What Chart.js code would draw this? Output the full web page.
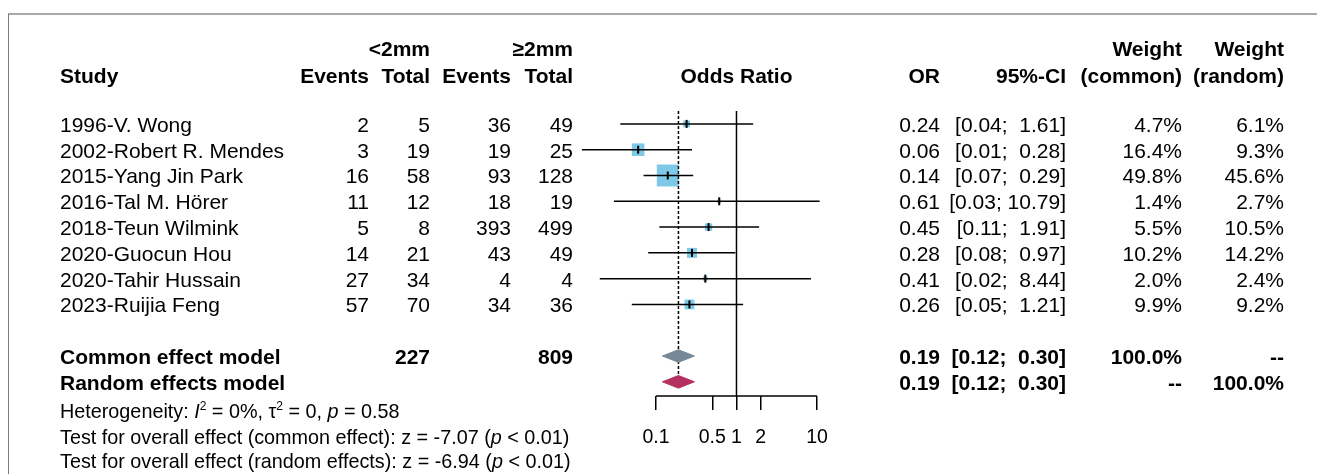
<!DOCTYPE html>
<html>
<head>
<meta charset="utf-8">
<script src="https://cdn.jsdelivr.net/npm/chart.js@4.4.1/dist/chart.umd.min.js"></script>
<style>
  body { margin: 0; background: #fff; }
  #wrap { position: relative; width: 1317px; height: 474px; overflow: hidden; font-family: "Liberation Sans", Arial, sans-serif; color: #000; }
  #frame { position: absolute; left: 8px; top: 13px; width: 1400px; height: 500px; border-top: 2px solid #a9a9a9; border-left: 1px solid #7a7a7a; }
  #plot { position: absolute; left: 0; top: 0; }
  .t { position: absolute; white-space: pre; font-size: 21px; line-height: 24px; }
  .b { font-weight: bold; }
  .s { font-size: 19.8px; }
</style>
</head>
<body>
<div id="wrap">
  <div id="frame"></div>
  <canvas id="plot" width="1317" height="474"></canvas>
</div>
<script>
// studies
var studies = ['1996-V. Wong', '2002-Robert R. Mendes', '2015-Yang Jin Park', '2016-Tal M. Hörer',
               '2018-Teun Wilmink', '2020-Guocun Hou', '2020-Tahir Hussain', '2023-Ruijia Feng'];
var eventsLow = [2, 3, 16, 11, 5, 14, 27, 57];
var totalLow = [5, 19, 58, 12, 8, 21, 34, 70];
var eventsHigh = [36, 19, 93, 18, 393, 43, 4, 34];
var totalHigh = [49, 25, 128, 19, 499, 49, 4, 36];
var oddsRatio = [0.24, 0.06, 0.14, 0.61, 0.45, 0.28, 0.41, 0.26];
var ciLower = [0.036, 0.012, 0.07, 0.03, 0.11, 0.08, 0.02, 0.05];
var ciUpper = [1.61, 0.28, 0.29, 10.79, 1.91, 0.97, 8.44, 1.21];
var weightCommon = [4.7, 16.4, 49.8, 1.4, 5.5, 10.2, 2.0, 9.9];
var weightRandom = [6.1, 9.3, 45.6, 2.7, 10.5, 14.2, 2.4, 9.2];

// pooled models
var modelNames = ['Common effect model', 'Random effects model'];
var modelOR = [0.19, 0.19];
var modelLower = [0.12, 0.12];
var modelUpper = [0.30, 0.30];
var modelWeightCommon = ['100.0%', '--'];
var modelWeightRandom = ['--', '100.0%'];

// axis
var xTicks = [0.1, 0.5, 1, 2, 10];
var xTickLabels = ['0.1', '0.5', '1', '2', '10'];

var FONT = '"Liberation Sans", Arial, sans-serif';
var modelRow0 = studies.length + 1;
var dh = 0.245;     // diamond half height in rows
var yTop = -0.5, yBottom = 10.55;

function line(pts, color, width, dash, order) {
    return {
        data: pts, showLine: true, borderColor: color, borderWidth: width,
        borderDash: dash || [], pointRadius: 0, clip: false, order: order
    };
}
function diamond(i, color) {
    var y = modelRow0 + i;
    return {
        data: [{x: modelLower[i], y: y}, {x: modelOR[i], y: y - dh}, {x: modelUpper[i], y: y},
               {x: modelOR[i], y: y + dh}, {x: modelLower[i], y: y}],
        showLine: true, fill: 'shape', backgroundColor: color, borderColor: color,
        borderWidth: 1, pointRadius: 0, clip: false, order: 4
    };
}

var datasets = [];
studies.forEach(function (s, i) {
    datasets.push(line([{x: ciLower[i], y: i}, {x: ciUpper[i], y: i}], '#000', 1.5, null, 2));
});
// reference line, pooled estimate line, axis line
datasets.push(line([{x: 1, y: yTop}, {x: 1, y: yBottom}], '#000', 1.5, null, 3));
datasets.push(line([{x: modelOR[0], y: yTop}, {x: modelOR[1], y: modelRow0 + 1 - dh}], '#000', 1.5, [3, 2], 5));
datasets.push(line([{x: xTicks[0], y: yBottom}, {x: xTicks[xTicks.length - 1], y: yBottom}], '#000', 1.5, null, 3));
datasets.push({
    data: oddsRatio.map(function (v, i) { return {x: v, y: i}; }),
    pointStyle: 'rect', backgroundColor: '#7ec9e8', borderWidth: 0,
    pointRadius: weightCommon.map(function (w) { return 2.2 * Math.sqrt(w); }),
    clip: false, order: 6
});
datasets.push({
    data: oddsRatio.map(function (v, i) { return {x: v, y: i}; }),
    pointStyle: 'line', rotation: 90, pointRadius: 4, borderColor: '#000', borderWidth: 2,
    clip: false, order: 1
});
datasets.push(diamond(0, '#778899'));
datasets.push(diamond(1, '#b3305f'));

var chart = new Chart(document.getElementById('plot'), {
    type: 'scatter',
    data: { datasets: datasets },
    options: {
        responsive: false,
        animation: false,
        events: [],
        layout: { padding: { left: 551.3, right: 475.8, top: 111, bottom: 18 } },
        plugins: { legend: { display: false }, tooltip: { enabled: false } },
        scales: {
            x: {
                type: 'logarithmic', min: 0.005, max: 20,
                afterBuildTicks: function (s) { s.ticks = xTicks.map(function (v) { return {value: v}; }); },
                afterFit: function (s) { s.height = 60; },
                grid: { drawOnChartArea: false, drawTicks: true, tickLength: 14, color: '#000', lineWidth: 1.5 },
                border: { display: false },
                ticks: {
                    color: '#000', padding: 16, maxRotation: 0, autoSkip: false,
                    font: { family: FONT, size: 19.5 },
                    callback: function (v, i) { return xTickLabels[i]; }
                }
            },
            y: { type: 'linear', reverse: true, min: yTop, max: yBottom, display: false }
        }
    }
});

// table text, placed on the chart's own row scale
var wrap = document.getElementById('wrap');
var ys = chart.scales.y, xs = chart.scales.x;
function put(html, x, row, align, cls) {
    var d = document.createElement('div');
    d.className = 't ' + (cls || '');
    d.innerHTML = html;
    var y = ys.getPixelForValue(row);
    d.style.top = (y - 11) + 'px';
    if (align === 'right') d.style.right = (1317 - x) + 'px';
    else if (align === 'center') { d.style.left = x + 'px'; d.style.transform = 'translateX(-50%)'; }
    else d.style.left = x + 'px';
    wrap.appendChild(d);
}
function ci(lo, hi) {
    var h = hi.toFixed(2);
    return '[' + lo.toFixed(2) + ';' + (h.length < 5 ? '  ' : ' ') + h + ']';
}
var C = { study: 60, evL: 369, toL: 430, evH: 511, toH: 573, or: 940, ci: 1066, wc: 1182, wr: 1284 };

put('&lt;2mm', C.toL, -2.95, 'right', 'b');
put('≥2mm', C.toH, -2.95, 'right', 'b');
put('Weight', C.wc, -2.95, 'right', 'b');
put('Weight', C.wr, -2.95, 'right', 'b');
put('Study', C.study, -1.9, 'left', 'b');
put('Events', C.evL, -1.9, 'right', 'b');
put('Total', C.toL, -1.9, 'right', 'b');
put('Events', C.evH, -1.9, 'right', 'b');
put('Total', C.toH, -1.9, 'right', 'b');
put('Odds Ratio', xs.getPixelForValue(1), -1.9, 'center', 'b');
put('OR', C.or, -1.9, 'right', 'b');
put('95%-CI', C.ci, -1.9, 'right', 'b');
put('(common)', C.wc, -1.9, 'right', 'b');
put('(random)', C.wr, -1.9, 'right', 'b');

studies.forEach(function (s, i) {
    put(s, C.study, i, 'left');
    put(String(eventsLow[i]), C.evL, i, 'right');
    put(String(totalLow[i]), C.toL, i, 'right');
    put(String(eventsHigh[i]), C.evH, i, 'right');
    put(String(totalHigh[i]), C.toH, i, 'right');
    put(oddsRatio[i].toFixed(2), C.or, i, 'right');
    put(ci(ciLower[i], ciUpper[i]), C.ci, i, 'right');
    put(weightCommon[i].toFixed(1) + '%', C.wc, i, 'right');
    put(weightRandom[i].toFixed(1) + '%', C.wr, i, 'right');
});

var sumLow = totalLow.reduce(function (a, b) { return a + b; }, 0);
var sumHigh = totalHigh.reduce(function (a, b) { return a + b; }, 0);
modelNames.forEach(function (m, i) {
    var r = modelRow0 + i;
    put(m, C.study, r, 'left', 'b');
    if (i === 0) {
        put(String(sumLow), C.toL, r, 'right', 'b');
        put(String(sumHigh), C.toH, r, 'right', 'b');
    }
    put(modelOR[i].toFixed(2), C.or, r, 'right', 'b');
    put(ci(modelLower[i], modelUpper[i]), C.ci, r, 'right', 'b');
    put(modelWeightCommon[i], C.wc, r, 'right', 'b');
    put(modelWeightRandom[i], C.wr, r, 'right', 'b');
});

put('Heterogeneity: <i>I</i><sup style="font-size:12px;line-height:0">2</sup> = 0%, τ<sup style="font-size:12px;line-height:0">2</sup> = 0, <i>p</i> = 0.58', C.study, 11.1, 'left', 's');
put('Test for overall effect (common effect): z = -7.07 (<i>p</i> &lt; 0.01)', C.study, 12.1, 'left', 's');
put('Test for overall effect (random effects): z = -6.94 (<i>p</i> &lt; 0.01)', C.study, 13.05, 'left', 's');
</script>
</body>
</html>
